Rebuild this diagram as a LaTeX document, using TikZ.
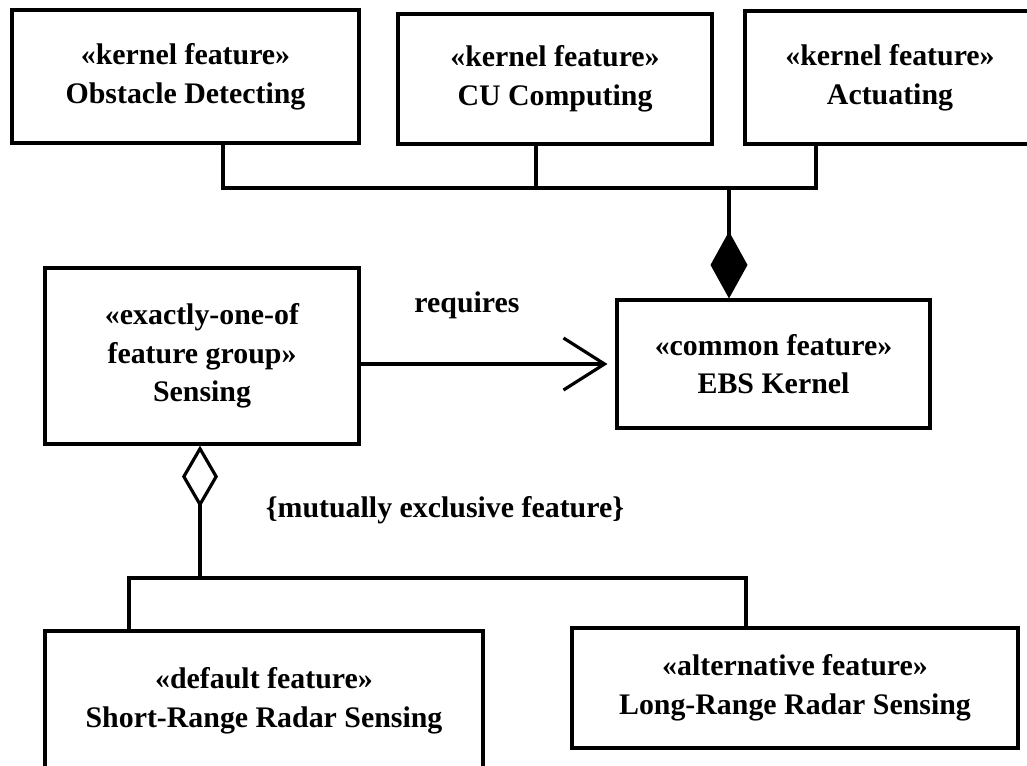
\documentclass[tikz,border=0pt]{standalone}
\usepackage{fontspec}
\setmainfont{Liberation Serif}
\usetikzlibrary{arrows.meta}
\begin{document}
\begin{tikzpicture}[x=0.02cm, y=-0.02cm,
  every node/.style={font=\fontsize{17}{22}\selectfont\bfseries},
  box/.style={draw, line width=1.8pt, inner sep=0pt, align=center},
  link/.style={line width=1.8pt}]
\useasboundingbox (0,0) rectangle (1027,765);
\clip (0,0) rectangle (1027,765);

% kernel features
\node[box, minimum width=6.94cm, minimum height=2.66cm] (obst) at (185.5,76.5) {«kernel feature»\\Obstacle Detecting};
\node[box, minimum width=6.28cm, minimum height=2.60cm] (cu) at (555,79) {«kernel feature»\\CU Computing};
\node[box, minimum width=5.80cm, minimum height=2.66cm] (act) at (890,77.5) {«kernel feature»\\Actuating};

% group, common feature and variants
\node[box, minimum width=6.28cm, minimum height=3.52cm] (sens) at (202,356) {«exactly-one-of\\feature group»\\Sensing};
\node[box, minimum width=6.26cm, minimum height=2.56cm] (ebs) at (773.5,364) {«common feature»\\EBS Kernel};
\node[box, minimum width=8.76cm, minimum height=2.78cm] (short) at (264,700.5) {«default feature»\\Short-Range Radar Sensing};
\node[box, minimum width=8.92cm, minimum height=2.40cm] (long) at (795,688) {«alternative feature»\\Long-Range Radar Sensing};

% labels
\node (req) at (467,305) {requires};
\node (mx) at (445,510) {\{mutually exclusive feature\}};

% composition of the kernel
\coordinate (k1) at (223,188);
\coordinate (k2) at (536,188);
\coordinate (k3) at (816,188);
\coordinate (kj) at (729,188);
\draw[link] (obst.south -| k1) -- (k1) -- (k3) -- (act.south -| k3);
\draw[link] (cu.south -| k2) -- (k2);
\draw[link, -{Diamond[length=1.34cm,width=0.74cm]}] (kj) -- (ebs.north -| kj);

% requires dependency
\draw[link, -{Straight Barb[length=0.82cm,width=1.04cm]}, shorten >=0.16cm] (sens.east |- ebs.west) -- (ebs.west);

% aggregation of the sensing variants
\coordinate (g) at (200,578);
\coordinate (gl) at (129,578);
\coordinate (gr) at (746,578);
\draw[link, {Diamond[open,length=1.24cm,width=0.72cm]}-] (sens.south -| g) -- (g);
\draw[link] (short.north -| gl) -- (gl) -- (gr) -- (long.north -| gr);
\end{tikzpicture}
\end{document}
